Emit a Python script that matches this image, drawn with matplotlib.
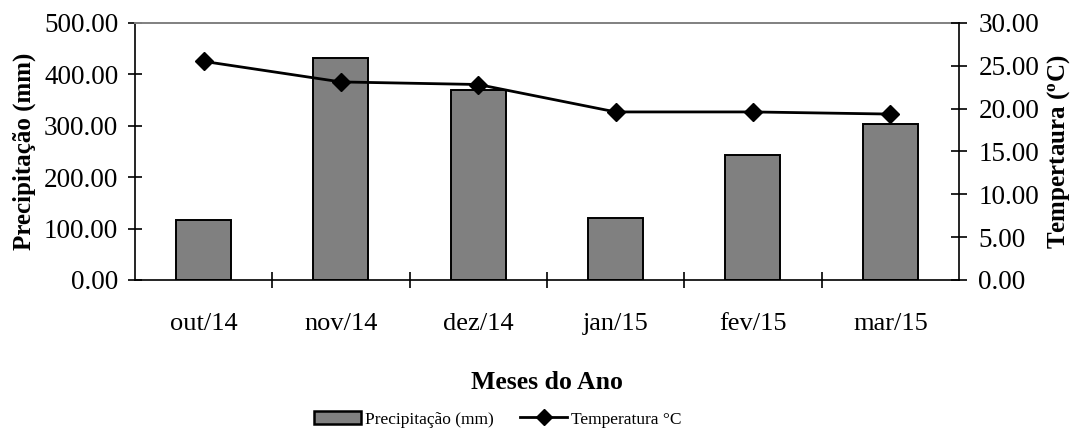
import numpy as np
import matplotlib
matplotlib.use("Agg")
import matplotlib.pyplot as plt
from matplotlib.lines import Line2D
from matplotlib.patches import Patch

plt.rcParams.update({"font.family": "Liberation Serif",
    "mathtext.fontset": "custom", "mathtext.rm": "Liberation Serif",
    "mathtext.bf": "Liberation Serif:bold"})

meses = ["out/14", "nov/14", "dez/14", "jan/15", "fev/15", "mar/15"]
precipitacao = [116.7, 432.0, 369.5, 121.0, 242.0, 303.0]
temperatura = [25.5, 23.1, 22.8, 19.6, 19.6, 19.35]

fig = plt.figure(figsize=(10.77, 4.30), dpi=100)
ax = fig.add_axes([0.1253, 0.349, 0.7651, 0.598])
x = np.arange(len(meses))
ax.bar(x, precipitacao, 0.4, color="#808080", edgecolor="black", lw=1.4, zorder=2)
ax.set_xlim(-0.5, len(meses) - 0.5)
ax.set_ylim(0, 500)
ax.set_yticks(np.arange(0, 501, 100))
ax.set_yticklabels([f"{v:.2f}" for v in np.arange(0, 501, 100)])
ax.set_xticks(x)
ax.set_xticklabels(meses)
ax.set_xticks(np.arange(0.5, len(meses) - 0.5, 1), minor=True)
ax.tick_params(axis="x", which="major", length=0, labelsize=19, pad=24)
ax.tick_params(axis="x", which="minor", direction="inout", length=12, width=1.2)
ax.tick_params(axis="y", direction="inout", length=10, width=1.2, labelsize=19.5, pad=7)
ax.set_ylabel("Precipitação (mm)", fontsize=18, fontweight="bold", labelpad=6)
ax.set_xlabel("Meses do Ano", fontsize=18.5, fontweight="bold", labelpad=26)
for s in ["left", "bottom"]:
    ax.spines[s].set_linewidth(1.2)
ax.spines["top"].set_color("#808080")
ax.spines["top"].set_linewidth(1.4)
ax.spines["right"].set_visible(False)

ax2 = ax.twinx()
ax2.plot(x, temperatura, color="black", lw=2, marker="D", ms=9, zorder=3)
ax2.set_ylim(0, 30)
ax2.set_yticks(np.arange(0, 31, 5))
ax2.set_yticklabels([f"{v:.2f}" for v in np.arange(0, 31, 5)])
ax2.tick_params(axis="y", direction="inout", length=12, width=1.2, labelsize=19.5, pad=8)
ax2.set_ylabel(r"Tempertaura ($\mathbf{^{o}C}$)", fontsize=18, fontweight="bold", labelpad=4)
ax2.spines["right"].set_linewidth(1.2)
ax2.spines["top"].set_visible(False)
ax2.spines["left"].set_visible(False)
ax2.spines["bottom"].set_visible(False)

handles = [Patch(facecolor="#808080", edgecolor="black", lw=1.8),
           Line2D([], [], color="black", lw=2, marker="D", ms=8)]
fig.legend(handles, ["Precipitação (mm)", "Temperatura °C"], loc="center",
           bbox_to_anchor=(0.462, 0.025), ncol=2, frameon=False, fontsize=12.5,
           handlelength=2.75, handleheight=0.8, handletextpad=0.2, columnspacing=1.5)

fig.savefig("out.png", dpi=100)
